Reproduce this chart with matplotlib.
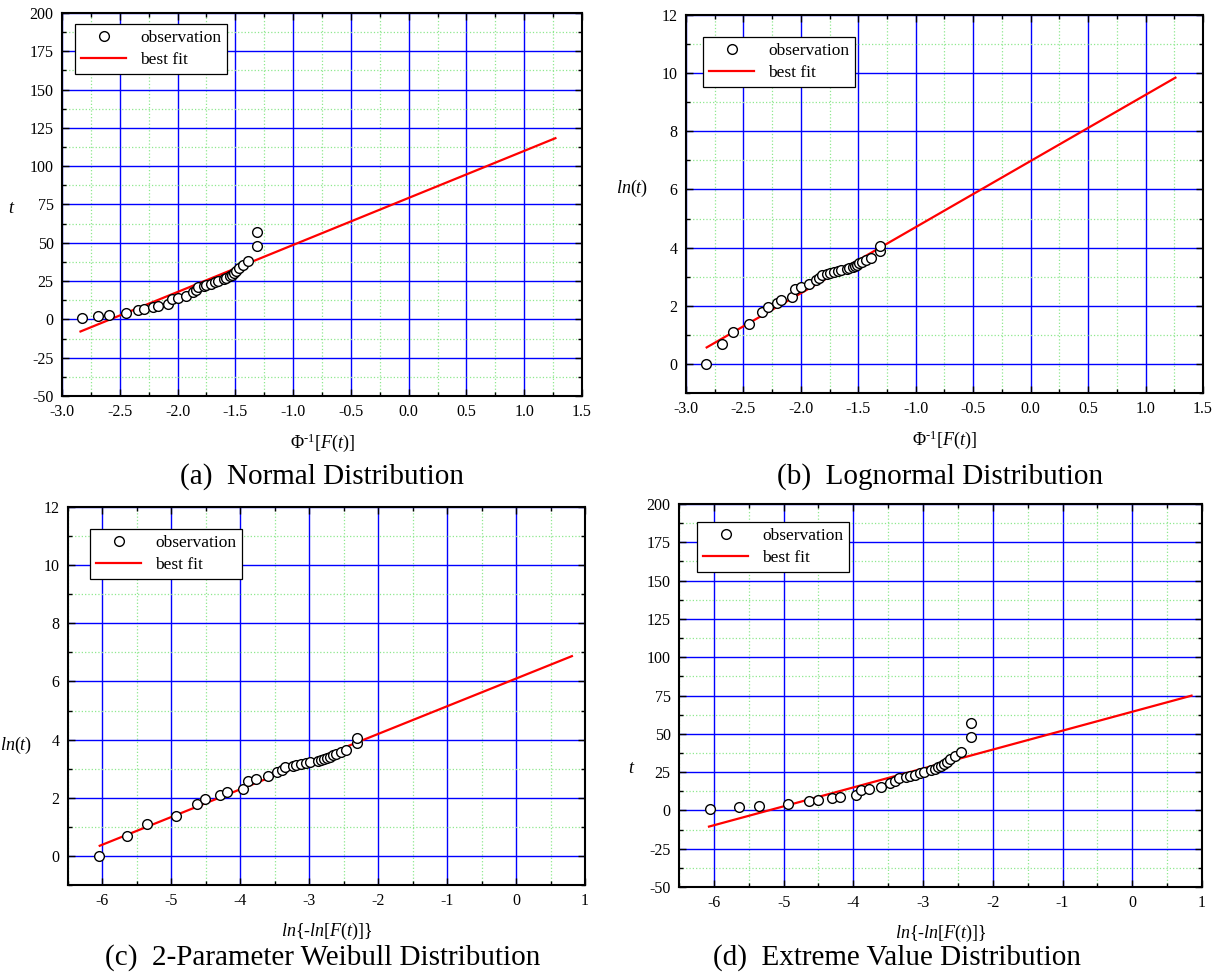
"""
    Probability plots of the observed times against four candidate distributions
"""

import numpy as np
import matplotlib
matplotlib.use("Agg")
from matplotlib import pyplot as plt
from matplotlib import ticker

plt.rcParams["font.family"] = ["Liberation Serif", "DejaVu Serif"]
plt.rcParams["mathtext.fontset"] = "custom"
plt.rcParams["mathtext.rm"] = "Liberation Serif"
plt.rcParams["mathtext.it"] = "Liberation Serif:italic"
plt.rcParams["axes.unicode_minus"] = False

# observed times (same sample in every panel)
t_obs = [1, 2, 3, 4, 6, 7, 8, 9, 10, 13, 14, 15.5, 18, 19.5, 21, 21.8, 22.5, 23.3,
         24.2, 25.2, 26.5, 27, 28.2, 29, 30, 31.8, 33.5, 35.5, 38, 48, 57]
ln_t = np.log(t_obs)

# plotting positions, Phi^-1[F(t)]
z_obs = [-2.83, -2.69, -2.59, -2.45, -2.34, -2.29, -2.21, -2.17, -2.08, -2.05, -2.00,
         -1.93, -1.87, -1.84, -1.82, -1.77, -1.75, -1.71, -1.68, -1.65, -1.60, -1.58,
         -1.55, -1.53, -1.51, -1.49, -1.47, -1.43, -1.39, -1.31, -1.31]

# plotting positions, ln{-ln[F(t)]}
w_obs = [-6.05, -5.64, -5.35, -4.94, -4.63, -4.51, -4.30, -4.19, -3.96, -3.89, -3.77,
         -3.60, -3.47, -3.40, -3.35, -3.24, -3.19, -3.12, -3.05, -2.99, -2.88, -2.83,
         -2.78, -2.74, -2.70, -2.65, -2.61, -2.54, -2.46, -2.31, -2.31]

# best fit lines: (slope, intercept, x_start, x_end)
fit_normal = (30.7, 79.3, -2.84, 1.27)
fit_lognormal = (2.274, 6.98, -2.82, 1.26)
fit_weibull = (0.952, 6.10, -6.04, 0.81)
fit_extreme = (12.35, 64.4, -6.07, 0.85)

W, H = 1226, 974

panels = [
    dict(x=z_obs, y=t_obs, fit=fit_normal, rect=(62, 13, 582, 396),
         xlim=(-3.0, 1.5), ylim=(-50, 200), xmaj=0.5, ymaj=25, xfmt="%.1f",
         xlabel=r"$\Phi^{\text{-1}}[F(t)]$", ylabel=r"$t$", ylab_pos=(-0.096, 0.49),
         leg=(13, 11), caption="(a)  Normal Distribution", cap=(322, 477)),
    dict(x=z_obs, y=ln_t, fit=fit_lognormal, rect=(686, 15, 1203, 393),
         xlim=(-3.0, 1.5), ylim=(-1, 12), xmaj=0.5, ymaj=2, xfmt="%.1f",
         xlabel=r"$\Phi^{\text{-1}}[F(t)]$", ylabel=r"$ln(t)$", ylab_pos=(-0.104, 0.54),
         leg=(17, 22), caption="(b)  Lognormal Distribution", cap=(940, 477)),
    dict(x=w_obs, y=ln_t, fit=fit_weibull, rect=(68, 507, 585, 885),
         xlim=(-6.5, 1), ylim=(-1, 12), xmaj=1, ymaj=2, xfmt="%d",
         xlabel=r"$ln\{\text{-}ln[F(t)]\}$", ylabel=r"$ln(t)$", ylab_pos=(-0.10, 0.37),
         leg=(22, 22), caption="(c)  2-Parameter Weibull Distribution", cap=(323, 958)),
    dict(x=w_obs, y=t_obs, fit=fit_extreme, rect=(679, 504, 1202, 887),
         xlim=(-6.5, 1), ylim=(-50, 200), xmaj=1, ymaj=25, xfmt="%d",
         xlabel=r"$ln\{\text{-}ln[F(t)]\}$", ylabel=r"$t$", ylab_pos=(-0.09, 0.31),
         leg=(18, 18), caption="(d)  Extreme Value Distribution", cap=(897, 958)),
]

fig = plt.figure(figsize=(W / 100, H / 100), dpi=100)

for p in panels:
    x0, y0, x1, y1 = p["rect"]
    ax = fig.add_axes([x0 / W, 1 - y1 / H, (x1 - x0) / W, (y1 - y0) / H])

    ax.xaxis.set_major_locator(ticker.MultipleLocator(p["xmaj"]))
    ax.xaxis.set_minor_locator(ticker.MultipleLocator(p["xmaj"] / 2))
    ax.yaxis.set_major_locator(ticker.MultipleLocator(p["ymaj"]))
    ax.yaxis.set_minor_locator(ticker.MultipleLocator(p["ymaj"] / 2))
    ax.xaxis.set_major_formatter(ticker.FormatStrFormatter(p["xfmt"]))
    ax.yaxis.set_major_formatter(ticker.FormatStrFormatter("%d"))

    ax.grid(which="major", color="#0000ff", linewidth=1.0, linestyle="-")
    ax.grid(which="minor", color="#8fe88f", linewidth=0.9, linestyle=":")
    ax.set_axisbelow(True)

    ax.plot(p["x"], p["y"], "o", markersize=7, markerfacecolor="white",
            markeredgecolor="black", markeredgewidth=1.0, label="observation", zorder=4)
    slope, icpt, xa, xb = p["fit"]
    xs = np.array([xa, xb])
    ax.plot(xs, icpt + slope * xs, color="red", linewidth=1.6, label="best fit", zorder=3)

    ax.set_xlim(*p["xlim"])
    ax.set_ylim(*p["ylim"])

    ax.tick_params(which="both", direction="in", top=True, right=True,
                   labelsize=11.5, width=1, pad=6)
    ax.tick_params(which="major", length=5)
    ax.tick_params(which="minor", length=3)
    for s in ax.spines.values():
        s.set_linewidth(1.5)

    ax.set_xlabel(p["xlabel"], fontsize=13, labelpad=8)
    ax.set_ylabel(p["ylabel"], fontsize=13, rotation=0, ha="center", va="center")
    ax.yaxis.set_label_coords(*p["ylab_pos"])

    lx, ly = p["leg"]
    ax.legend(loc="upper left", bbox_to_anchor=(lx / (x1 - x0), 1 - ly / (y1 - y0)),
              borderaxespad=0, frameon=True, fancybox=False, framealpha=1,
              edgecolor="black", fontsize=12.5, handlelength=2.6,
              borderpad=0.35, labelspacing=0.3)
    ax.get_legend().get_frame().set_linewidth(0.9)

    cx, cy = p["cap"]
    fig.text(cx / W, 1 - cy / H, p["caption"], fontsize=21, ha="center", va="center")

fig.savefig("out.png", dpi=100)
